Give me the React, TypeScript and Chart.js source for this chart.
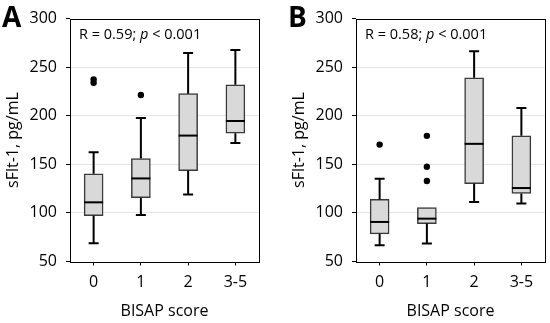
import React, { useEffect, useRef } from "react";
import { Chart, registerables } from "chart.js";
Chart.register(...registerables);

const categories = ["0", "1", "2", "3-5"];
const yTicks = [50, 100, 150, 200, 250, 300];

// Panel A
const aLow = [68.8, 97.9, 119, 172];
const aQ1 = [97.2, 115.6, 143.4, 182];
const aMedian = [110.9, 135.5, 179.6, 194.6];
const aQ3 = [140.3, 156, 222.7, 231.9];
const aHigh = [162.5, 197.7, 264.7, 267.8];
const aOutlierCats = ["0", "0", "1"];
const aOutlierVals = [237.5, 234, 221.3];

// Panel B
const bLow = [66.7, 68.5, 111.2, 109.8];
const bQ1 = [78.4, 89, 130, 120.1];
const bMedian = [90.7, 94.1, 171.1, 125.6];
const bQ3 = [113.9, 105.4, 239.1, 179.3];
const bHigh = [135.1, 105.4, 266.5, 208];
const bOutlierCats = ["0", "1", "1", "1"];
const bOutlierVals = [170.3, 179.3, 147.5, 132.8];

const FONT = "'Open Sans', sans-serif";

type PanelProps = {
  letter: string;
  rText: string;
  pText: string;
  low: number[];
  q1: number[];
  median: number[];
  q3: number[];
  high: number[];
  outCats: string[];
  outVals: number[];
};

function Panel(props: PanelProps) {
  const ref = useRef<HTMLCanvasElement | null>(null);
  useEffect(() => {
    if (!ref.current) return;
    const { letter, rText, pText, low, q1, median, q3, high, outCats, outVals } = props;
    const boxPlugin = {
      id: "boxExtras",
      afterDatasetsDraw(chart: any) {
        const ctx = chart.ctx;
        const xs = chart.scales.x;
        const ys = chart.scales.y;
        ctx.save();
        ctx.strokeStyle = "#000";
        ctx.lineWidth = 2;
        for (let i = 0; i < categories.length; i++) {
          const x = xs.getPixelForValue(i);
          const cap = 5;
          const half = 9.5;
          const seg = (from: number, to: number) => {
            if (Math.abs(from - to) < 0.01) return;
            const y0 = ys.getPixelForValue(from);
            const y1 = ys.getPixelForValue(to);
            ctx.beginPath();
            ctx.moveTo(x, y0);
            ctx.lineTo(x, y1);
            ctx.moveTo(x - cap, y1);
            ctx.lineTo(x + cap, y1);
            ctx.stroke();
          };
          seg(q3[i], high[i]);
          seg(q1[i], low[i]);
          const ym = ys.getPixelForValue(median[i]);
          ctx.beginPath();
          ctx.moveTo(x - half, ym);
          ctx.lineTo(x + half, ym);
          ctx.stroke();
        }
        ctx.restore();
      },
      afterDraw(chart: any) {
        const ctx = chart.ctx;
        const a = chart.chartArea;
        ctx.save();
        ctx.strokeStyle = "#000";
        ctx.lineWidth = 1;
        ctx.strokeRect(Math.round(a.left) + 0.5, Math.round(a.top) + 0.5, Math.round(a.right - a.left), Math.round(a.bottom - a.top));
        // annotation
        ctx.fillStyle = "#000";
        ctx.textBaseline = "alphabetic";
        ctx.textAlign = "left";
        let x = a.left + 9;
        const y = a.top + 20;
        ctx.font = "14.5px " + FONT;
        ctx.fillText(rText, x, y);
        x += ctx.measureText(rText).width;
        ctx.font = "italic 14.5px " + FONT;
        ctx.fillText("p", x, y);
        x += ctx.measureText("p").width;
        ctx.font = "14.5px " + FONT;
        ctx.fillText(pText, x, y);
        // panel letter
        ctx.font = "bold 28px " + FONT;
        ctx.fillText(letter, 2, 27);
        ctx.restore();
      },
    };

    const chart = new Chart(ref.current, {
      type: "bar",
      data: {
        labels: categories,
        datasets: [
          {
            type: "bar",
            data: categories.map((_, i) => [q1[i], q3[i]]) as any,
            backgroundColor: "#d9d9d9",
            borderColor: "#3a3a3a",
            borderWidth: 1.5,
            borderSkipped: false,
            barThickness: 19,
          } as any,
          {
            type: "line",
            data: outCats.map((c, i) => ({ x: c, y: outVals[i] })) as any,
            showLine: false,
            pointRadius: 3.2,
            pointBackgroundColor: "#000",
            pointBorderWidth: 0,
            borderColor: "#000",
          } as any,
        ],
      },
      options: {
        animation: false,
        responsive: false,
        devicePixelRatio: 1,
        layout: { padding: { top: 17, right: 11, left: 0, bottom: 0 } },
        plugins: { legend: { display: false }, tooltip: { enabled: false } },
        scales: {
          x: {
            type: "category",
            offset: true,
            border: { display: false },
            grid: { drawOnChartArea: false, drawTicks: true, tickLength: 4, tickColor: "#000", offset: false },
            ticks: { color: "#000", font: { family: FONT, size: 16 }, padding: 7 },
            title: {
              display: true,
              text: "BISAP score",
              color: "#000",
              font: { family: FONT, size: 16, lineHeight: 1.2 },
              padding: { top: 0, bottom: 1.5 },
            },
            afterFit: (s: any) => {
              s.height = 61.5;
            },
          },
          y: {
            type: "linear",
            min: 50,
            max: 300,
            border: { display: false },
            grid: {
              color: (c: any) => (c.tick && (c.tick.value === 50 || c.tick.value === 300) ? "rgba(0,0,0,0)" : "#e6e6e6"),
              tickColor: "#000",
              tickLength: 4,
              lineWidth: 1,
            },
            afterBuildTicks: (s: any) => {
              s.ticks = yTicks.map((v) => ({ value: v }));
            },
            ticks: { color: "#000", font: { family: FONT, size: 16 }, padding: 9 },
            title: {
              display: true,
              text: "sFlt-1, pg/mL",
              color: "#000",
              font: { family: FONT, size: 16, lineHeight: 1.2 },
              padding: { top: 4, bottom: 0 },
            },
            afterFit: (s: any) => {
              s.width = 70;
            },
          },
        },
      } as any,
      plugins: [boxPlugin],
    });
    return () => chart.destroy();
  }, []);
  return <canvas ref={ref} width={270} height={323} style={{ display: "block", width: 270, height: 323 }} />;
}

export default function App() {
  return (
    <div style={{ position: "absolute", left: 0, top: 0, width: 550, height: 323, background: "#fff" }}>
      <div style={{ position: "absolute", left: 0, top: 0 }}>
        <Panel
          letter="A"
          rText="R = 0.59; "
          pText=" < 0.001"
          low={aLow}
          q1={aQ1}
          median={aMedian}
          q3={aQ3}
          high={aHigh}
          outCats={aOutlierCats}
          outVals={aOutlierVals}
        />
      </div>
      <div style={{ position: "absolute", left: 286, top: 0 }}>
        <Panel
          letter="B"
          rText="R = 0.58; "
          pText=" < 0.001"
          low={bLow}
          q1={bQ1}
          median={bMedian}
          q3={bQ3}
          high={bHigh}
          outCats={bOutlierCats}
          outVals={bOutlierVals}
        />
      </div>
    </div>
  );
}
